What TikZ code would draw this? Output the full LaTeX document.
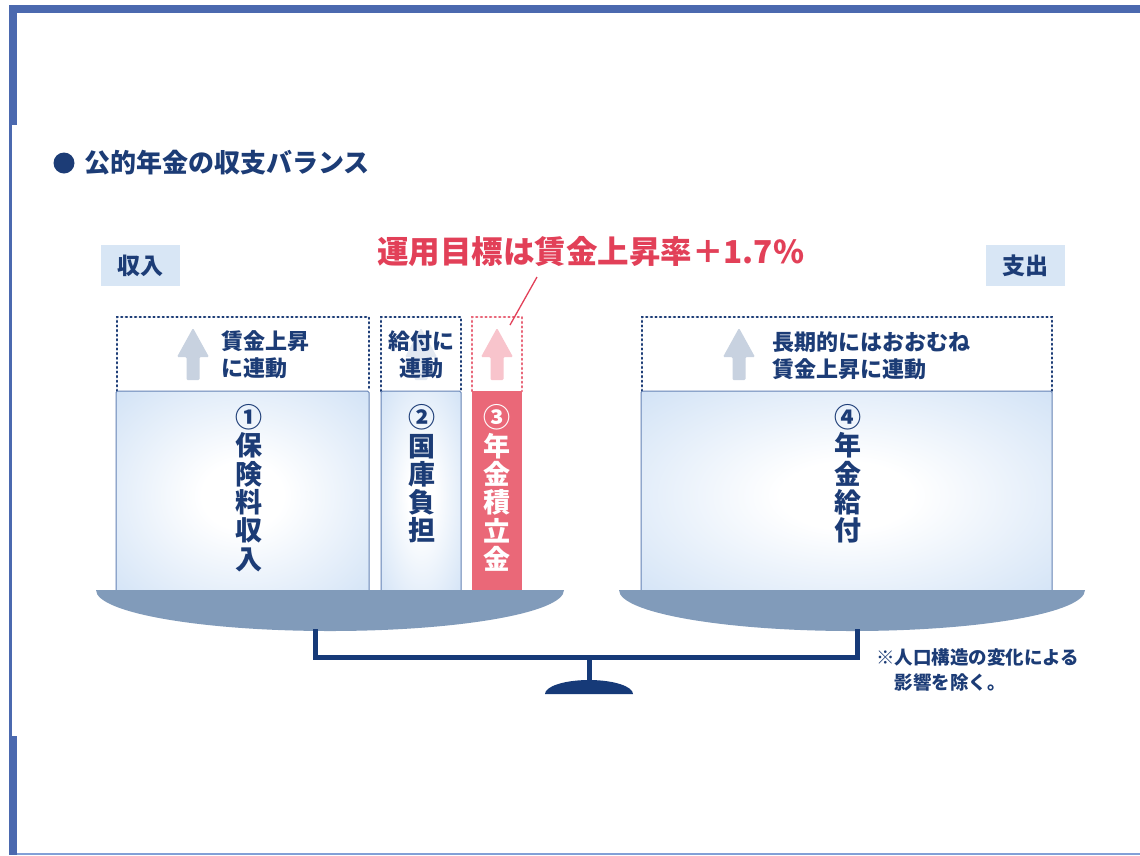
\documentclass[tikz,border=0pt]{standalone}
\usepackage{fontspec}
\newfontfamily\jp{Noto Sans CJK JP}
\definecolor{navy}{RGB}{28,60,118}
\definecolor{framec}{RGB}{75,105,175}
\definecolor{framelight}{RGB}{130,160,215}
\definecolor{panc}{RGB}{129,155,186}
\definecolor{beamc}{RGB}{22,58,120}
\definecolor{redt}{RGB}{226,64,88}
\definecolor{redbox}{RGB}{234,104,120}
\definecolor{labelbg}{RGB}{216,230,245}
\definecolor{arrowgray}{RGB}{200,210,224}
\definecolor{arrowfaint}{RGB}{226,232,241}
\definecolor{arrowpink}{RGB}{248,196,204}
\definecolor{boxblue}{RGB}{206,224,245}
\definecolor{boxedge}{RGB}{100,130,180}
\pgfdeclareradialshading{boxshade}{\pgfpoint{0bp}{0bp}}{color(0bp)=(white); color(8bp)=(white); color(38bp)=(boxblue); color(72bp)=(boxblue)}
\usetikzlibrary{calc}
\tikzset{
  dotbox/.style={draw=navy, line width=2.2pt, dash pattern=on 1.2pt off 3.4pt, line cap=round},
  reddotbox/.style={draw=redt!80, line width=2.2pt, dash pattern=on 1.2pt off 3.4pt, line cap=round},
  solidbox/.style={draw=boxedge, line width=1pt, shading=boxshade, rounded corners=1.5pt},
  labelbox/.style={fill=labelbg, minimum width=79pt, minimum height=41pt, inner sep=0pt, font=\jp\bfseries\fontsize{23}{26}\selectfont, text=navy},
  boxtext/.style={inner sep=0pt, font=\jp\bfseries\fontsize{22}{27}\selectfont, text=navy, align=left},
  vtext/.style={inner sep=0pt, font=\jp\bfseries\fontsize{27}{28.3}\selectfont, text=navy, align=center},
  pan/.style={fill=panc},
  beam/.style={draw=beamc, line width=5pt, line join=miter},
  uparrow/.pic={\fill[pic actions, rounded corners=1.2pt] (0,0) -- (16,29) -- (6.5,29) -- (6.5,52) -- (-6.5,52) -- (-6.5,29) -- (-16,29) -- cycle;}
}
\begin{document}
\begin{tikzpicture}[x=1pt,y=-1pt]
\useasboundingbox (0,0) rectangle (1140,855);
\fill[white] (0,0) rectangle (1140,855);
% frame
\fill[framec] (9,5) rectangle (1140,13);
\fill[framec] (9,5) rectangle (17,125);
\fill[framec] (9,125) rectangle (12,736);
\fill[framec] (9,736) rectangle (17,855);
\fill[framelight] (17,853) rectangle (1140,855);
% title
\fill[navy] (64,163) circle (10.5);
\node[anchor=west, inner sep=0pt, text=navy, font=\jp\bfseries\fontsize{26}{30}\selectfont] (title) at (84,163) {公的年金の収支バランス};
% labels
\node[labelbox] (inc) at (140.5,265.5) {収入};
\node[labelbox] (exp) at (1025.5,265.5) {支出};
% red target text
\node[anchor=west, inner sep=0pt, text=redt, font=\jp\bfseries\fontsize{31.5}{34}\selectfont] (target) at (377,252) {運用目標は賃金上昇率＋1.7\%};
% dotted boxes
\draw[dotbox] (117,391) -- (117,317) -- (369,317) -- (369,391);
\draw[dotbox] (381,391) -- (381,317) -- (461,317) -- (461,391);
\draw[reddotbox] (472,391) -- (472,317) -- (522,317) -- (522,391);
\draw[dotbox] (642,391) -- (642,317) -- (1052,317) -- (1052,391);
% solid boxes
\shade[solidbox] (116,600) -- (116,391) -- (369,391) -- (369,600);
\shade[solidbox] (381,600) -- (381,391) -- (461,391) -- (461,600);
\fill[redbox] (472,391) rectangle (522,600);
\shade[solidbox] (641,600) -- (641,391) -- (1052,391) -- (1052,600);
% arrows
\pic[fill=arrowgray] (arrA) at (193,328) {uparrow};
\pic[fill=arrowfaint] (arrB) at (421,328) {uparrow};
\pic[fill=arrowpink] (arrC) at (497,328) {uparrow};
\pic[fill=arrowgray] (arrD) at (739,328) {uparrow};
% red leader
\coordinate (lead) at (510,325);
\draw[redt, line width=1.3pt] (537,277) -- (lead);
% dotted-box texts
\node[boxtext, anchor=west] (tA) at (221,355) {賃金上昇\\に連動};
\node[boxtext, align=center] (tB) at (421,355) {給付に\\連動};
\node[boxtext, anchor=west] (tD) at (772,356) {長期的にはおおむね\\賃金上昇に連動};
% vertical texts
\node[vtext] (v1) at (249,488) {①\\保\\険\\料\\収\\入};
\node[vtext] (v2) at (422,474) {②\\国\\庫\\負\\担};
\node[vtext, text=white] (v3) at (497,488) {③\\年\\金\\積\\立\\金};
\node[vtext] (v4) at (848,474) {④\\年\\金\\給\\付};
% pans
\fill[pan] (96,590) -- (564,590) arc[start angle=0, end angle=180, x radius=234, y radius=41] -- cycle;
\fill[pan] (619,590) -- (1085,590) arc[start angle=0, end angle=180, x radius=233, y radius=41] -- cycle;
% beam and stand
\draw[beam] (315,629) -- (315,657) -- (857,657) -- (857,629);
\draw[beam] (589,657) -- (589,684);
\fill[beamc] (545,694) arc[start angle=180, end angle=360, x radius=44, y radius=14] -- cycle;
% note
\node[anchor=north west, inner sep=0pt, text=navy, align=left, font=\jp\bfseries\fontsize{18.5}{25}\selectfont] (note) at (876,648) {※人口構造の変化による\\\hspace*{1em}影響を除く。};
\end{tikzpicture}
\end{document}
